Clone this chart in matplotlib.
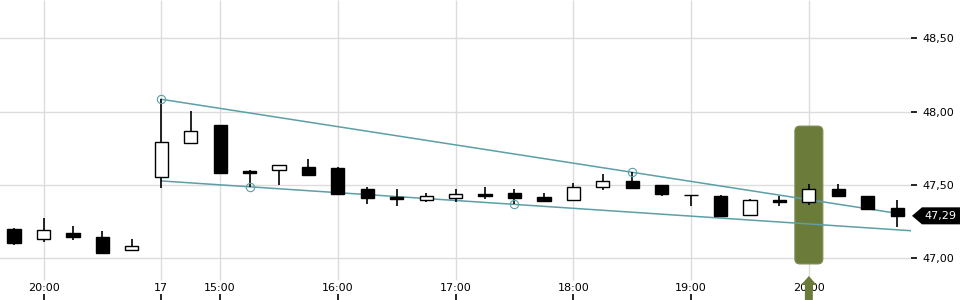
import matplotlib
matplotlib.use("Agg")
import matplotlib.pyplot as plt
from matplotlib.patches import FancyBboxPatch, Polygon
from matplotlib.transforms import blended_transform_factory
from matplotlib.ticker import FixedLocator, FuncFormatter
import numpy as np

# ---------------- data ----------------
opens = [47.200, 47.130, 47.171, 47.143, 47.055, 47.553, 47.784, 47.909, 47.593, 47.600,
         47.623, 47.616, 47.473, 47.418, 47.400, 47.413, 47.437, 47.445, 47.418, 47.396,
         47.488, 47.525, 47.500, 47.430, 47.425, 47.293, 47.398, 47.381, 47.471, 47.425,
         47.343]
closes = [47.106, 47.193, 47.147, 47.038, 47.082, 47.791, 47.866, 47.584, 47.580, 47.634,
          47.570, 47.441, 47.413, 47.407, 47.423, 47.437, 47.427, 47.413, 47.393, 47.484,
          47.529, 47.482, 47.441, 47.430, 47.291, 47.398, 47.382, 47.471, 47.427, 47.338,
          47.290]
highs = [47.207, 47.273, 47.218, 47.186, 47.132, 48.085, 48.005, 47.909, 47.602, 47.634,
         47.677, 47.620, 47.486, 47.473, 47.443, 47.473, 47.486, 47.473, 47.445, 47.512,
         47.573, 47.587, 47.500, 47.430, 47.432, 47.404, 47.427, 47.507, 47.505, 47.427,
         47.398]
lows = [47.093, 47.113, 47.123, 47.031, 47.048, 47.477, 47.784, 47.584, 47.488, 47.502,
        47.570, 47.441, 47.372, 47.359, 47.386, 47.386, 47.404, 47.368, 47.393, 47.396,
        47.468, 47.482, 47.427, 47.359, 47.284, 47.293, 47.359, 47.366, 47.427, 47.338,
        47.216]

xtick_idx = [1, 5, 7, 11, 15, 19, 23, 27]
xtick_labels = ["20:00", "17", "15:00", "16:00", "17:00", "18:00", "19:00", "20:00"]
yticks = [47.00, 47.50, 48.00, 48.50]

upper_anchor_idx = [5, 21]     # trendline touches highs
lower_anchor_idx = [8, 17]     # trendline touches lows
trend_start_idx = 5
upper_end_idx = 30.25
highlight_idx = 27
highlight_range = [46.962, 47.902]
last_price = closes[-1]

# ---------------- style ----------------
TEAL = "#5c9fa6"
GREEN = "#6b7b3a"
GRID = "#dcdcdc"

fig = plt.figure(figsize=(9.6, 3.0), dpi=100)
ax = fig.add_axes([0, 0, 911 / 960, 1])
ax.set_xlim(-0.478, 30.47)
ax.set_ylim(46.716, 48.762)
for s in ax.spines.values():
    s.set_visible(False)

ax.xaxis.set_major_locator(FixedLocator(xtick_idx))
ax.set_xticklabels(xtick_labels)
ax.yaxis.set_major_locator(FixedLocator(yticks))
ax.yaxis.set_major_formatter(FuncFormatter(lambda v, p: f"{v:.2f}".replace(".", ",")))
ax.grid(True, axis="y", color=GRID, linewidth=1.0, zorder=0)
ax.set_axisbelow(True)
# vertical grid lines stop just above the time labels
grid_bottom = ax.get_ylim()[0] + (ax.get_ylim()[1] - ax.get_ylim()[0]) * (20 / 300)
ax.vlines(xtick_idx, grid_bottom, ax.get_ylim()[1], color=GRID, linewidth=1.0, zorder=0)

ax.yaxis.tick_right()
ax.tick_params(axis="y", direction="out", length=4.5, width=1.2, pad=4,
               labelsize=8, colors="black")
ax.tick_params(axis="x", direction="in", length=4, width=1.2, pad=-12.5,
               labelsize=8, colors="black")

x = np.arange(len(opens))

# highlight box
r_x = 0.17
box = FancyBboxPatch((highlight_idx - 0.475, highlight_range[0]), 0.95,
                     highlight_range[1] - highlight_range[0],
                     boxstyle=f"round,pad=0,rounding_size={r_x}",
                     mutation_aspect=0.2, facecolor=GREEN, edgecolor="#7d8c50",
                     linewidth=0.8, zorder=1)
ax.add_patch(box)

# arrow under highlight
bt = blended_transform_factory(ax.transData, ax.transAxes)
hw, sw = 0.265, 0.135
tip = 1 - 276 / 300
base = 1 - 285 / 300
arrow = Polygon([(highlight_idx, tip), (highlight_idx + hw, base), (highlight_idx + sw, base),
                 (highlight_idx + sw, 0), (highlight_idx - sw, 0), (highlight_idx - sw, base),
                 (highlight_idx - hw, base)], closed=True, transform=bt,
                facecolor=GREEN, edgecolor="none", zorder=1, clip_on=False)
ax.add_patch(arrow)

# trendlines
ux = np.array(upper_anchor_idx, dtype=float)
uy = np.array([highs[i] for i in upper_anchor_idx])
us = (uy[1] - uy[0]) / (ux[1] - ux[0])
lx = np.array(lower_anchor_idx, dtype=float)
ly = np.array([lows[i] for i in lower_anchor_idx])
ls = (ly[1] - ly[0]) / (lx[1] - lx[0])
u_line_x = np.array([trend_start_idx, upper_end_idx])
ax.plot(u_line_x, uy[0] + us * (u_line_x - ux[0]), color=TEAL, lw=1.1, zorder=2)
l_line_x = np.array([trend_start_idx, ax.get_xlim()[1]])
ax.plot(l_line_x, ly[0] + ls * (l_line_x - lx[0]), color=TEAL, lw=1.1, zorder=2)
ax.plot(ux, uy, "o", ms=6, mfc="none", mec=TEAL, mew=0.8, zorder=4)
ax.plot(lx, ly, "o", ms=6, mfc="none", mec=TEAL, mew=0.8, zorder=4)

# candles
o = np.array(opens); c = np.array(closes)
ax.vlines(x, lows, highs, color="black", lw=1.2, zorder=3)
up = c >= o
ax.bar(x, np.abs(c - o), bottom=np.minimum(o, c), width=0.45,
       color=np.where(up, "white", "black"), edgecolor="black", linewidth=1.0, zorder=3)

# last price tag
ft = blended_transform_factory(fig.transFigure, ax.transData)
hh = 8.5 / 146.6
tag = Polygon([(912 / 960, last_price), (922 / 960, last_price + hh), (1.0, last_price + hh),
               (1.0, last_price - hh), (922 / 960, last_price - hh)], closed=True,
              transform=ft, facecolor="black", edgecolor="none", clip_on=False, zorder=5)
fig.add_artist(tag)
fig.text(924 / 960, last_price, f"{last_price:.2f}".replace(".", ","), transform=ft,
         color="white", fontsize=8, va="center", ha="left", zorder=6)

fig.savefig("out.png", dpi=100, facecolor="white")
